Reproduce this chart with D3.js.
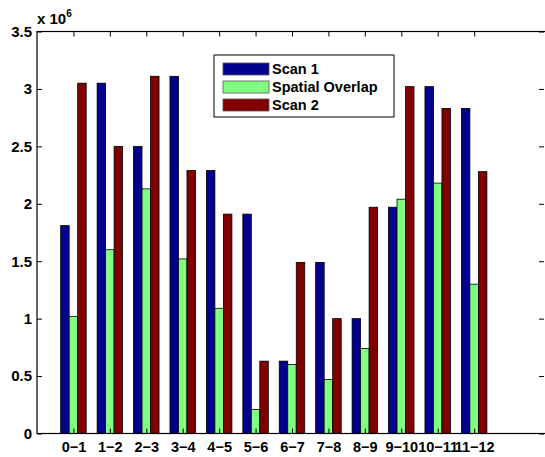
<!DOCTYPE html>
<html>
<head>
<meta charset="utf-8">
<script src="https://cdn.jsdelivr.net/npm/d3@7"></script>
<style>
  body { margin: 0; background: #fff; }
  svg text { font-family: "Liberation Sans", Helvetica, Arial, sans-serif; font-weight: bold; }
</style>
</head>
<body>
<div id="chart"></div>
<script>
var categories = ["0\u22121","1\u22122","2\u22123","3\u22124","4\u22125","5\u22126","6\u22127","7\u22128","8\u22129","9\u221210","10\u221211","11\u221212"];
var scan1   = [1.81, 3.05, 2.50, 3.11, 2.29, 1.91, 0.63, 1.49, 1.00, 1.97, 3.02, 2.83];
var overlap = [1.02, 1.60, 2.13, 1.52, 1.09, 0.21, 0.60, 0.47, 0.74, 2.04, 2.18, 1.30];
var scan2   = [3.05, 2.50, 3.11, 2.29, 1.91, 0.63, 1.49, 1.00, 1.97, 3.02, 2.83, 2.28];
var yTicks = [0, 0.5, 1, 1.5, 2, 2.5, 3, 3.5];
var seriesNames = ["Scan 1", "Spatial Overlap", "Scan 2"];
var seriesColors = ["#00008f", "#80ff80", "#800000"];

var width = 545, height = 457;
var plotL = 37, plotR = 547, plotT = 31.5, plotB = 433.5;

var svg = d3.select('#chart')
  .append('svg')
  .attr('width', width)
  .attr('height', height);

var x = d3.scaleLinear().domain([0, 14]).range([plotL, plotR]);
var y = d3.scaleLinear().domain([0, 3.5]).range([plotB, plotT]);

var series = [scan1, overlap, scan2];
var barW = 0.7 / 3; // in x units

// bars
series.forEach(function(vals, s) {
  svg.append('g').selectAll('rect')
    .data(vals)
    .enter()
    .append('rect')
    .attr('x', function(d, i) { return x(i + 1 + (s - 1) * barW - barW / 2); })
    .attr('width', x(barW) - x(0))
    .attr('y', function(d) { return y(d); })
    .attr('height', function(d) { return y(0) - y(d); })
    .attr('fill', seriesColors[s])
    .attr('stroke', '#000')
    .attr('stroke-width', 0.8);
});

// axes box
svg.append('rect')
  .attr('x', plotL).attr('y', plotT)
  .attr('width', plotR - plotL).attr('height', plotB - plotT)
  .attr('fill', 'none').attr('stroke', '#000').attr('stroke-width', 1.2);

var xIdx = d3.range(1, 13);

var xb = d3.axisBottom(x).tickValues(xIdx).tickSizeInner(-5).tickSizeOuter(0)
  .tickPadding(8).tickFormat(function(d) { return categories[d - 1]; });
var gx = svg.append('g').attr('transform', 'translate(0,' + plotB + ')').call(xb);
gx.selectAll('text').attr('font-size', 14.5).attr('fill', '#000');

var xt = d3.axisTop(x).tickValues(xIdx).tickSizeInner(-5).tickSizeOuter(0).tickFormat('');
svg.append('g').attr('transform', 'translate(0,' + plotT + ')').call(xt);

var yl = d3.axisLeft(y).tickValues(yTicks).tickSizeInner(-5).tickSizeOuter(0)
  .tickPadding(5).tickFormat(d3.format('~g'));
var gy = svg.append('g').attr('transform', 'translate(' + plotL + ',0)').call(yl);
gy.selectAll('text').attr('font-size', 15).attr('fill', '#000');

var yr = d3.axisRight(y).tickValues(yTicks).tickSizeInner(-5).tickSizeOuter(0).tickFormat('');
svg.append('g').attr('transform', 'translate(' + (plotR - 3) + ',0)').call(yr);

svg.selectAll('.domain').remove();

// exponent label
var ex = svg.append('text').attr('x', 37).attr('y', 24).attr('font-size', 15);
ex.append('tspan').text('x 10');
ex.append('tspan').attr('dy', -7).attr('font-size', 10).text('6');

// legend
var lg = svg.append('g').attr('transform', 'translate(214,55)');
lg.append('rect').attr('width', 180).attr('height', 62)
  .attr('fill', '#fff').attr('stroke', '#000').attr('stroke-width', 1);
seriesNames.forEach(function(name, i) {
  var cy = 14 + i * 18;
  lg.append('rect').attr('x', 9).attr('y', cy - 6).attr('width', 46).attr('height', 12)
    .attr('fill', seriesColors[i]).attr('stroke', '#555').attr('stroke-width', 0.8);
  lg.append('text').attr('x', 58).attr('y', cy + 5).attr('font-size', 14.5).text(name);
});
</script>
</body>
</html>
